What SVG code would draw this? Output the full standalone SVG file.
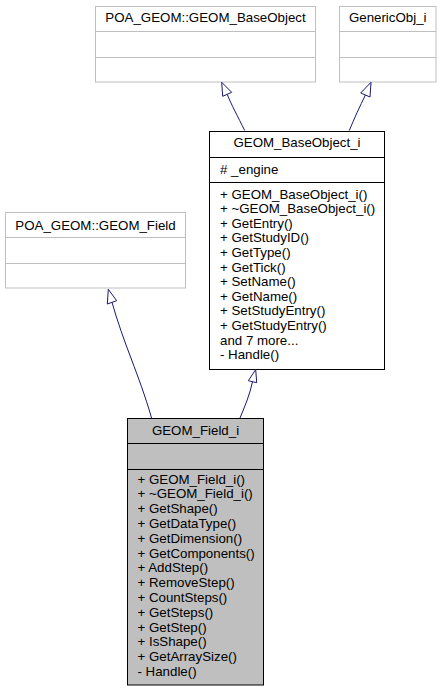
<svg xmlns="http://www.w3.org/2000/svg" width="441" height="691" viewBox="0 0 441 691">
<style>
text{font-family:"Liberation Sans",Arial,sans-serif;font-size:13.3px;fill:#000}
.t{text-anchor:middle}
.ext rect,.ext line{fill:#fff;stroke:#bfbfbf;stroke-width:1}
.cls rect{fill:#fff;stroke:#000;stroke-width:1}
.cls line{stroke:#000;stroke-width:1}
.cur rect{fill:#bfbfbf}
.e path{fill:none;stroke:#191970;stroke-width:1}
.e polygon{fill:#fff;stroke:#191970;stroke-width:1}
</style>
<rect width="441" height="691" fill="#fff"/>
<g id="poa_baseobject" class="ext">
<rect x="95.5" y="6.5" width="220" height="75.5"/>
<line x1="95.5" y1="31.5" x2="315.5" y2="31.5"/>
<line x1="95.5" y1="57.5" x2="315.5" y2="57.5"/>
<text class="t" x="205.5" y="22">POA_GEOM::GEOM_BaseObject</text>
</g>
<g id="genericobj" class="ext">
<rect x="339.5" y="6.5" width="96.5" height="75.5"/>
<line x1="339.5" y1="31.5" x2="436" y2="31.5"/>
<line x1="339.5" y1="57.5" x2="436" y2="57.5"/>
<text class="t" x="387.7" y="22">GenericObj_i</text>
</g>
<g id="baseobject_i" class="cls">
<rect x="209.5" y="131.5" width="175" height="238"/>
<line x1="209.5" y1="157.5" x2="384.5" y2="157.5"/>
<line x1="209.5" y1="182.5" x2="384.5" y2="182.5"/>
<text class="t" x="297" y="147">GEOM_BaseObject_i</text>
<text x="220" y="173.5"># _engine</text>
<text x="220" y="198.5">+ GEOM_BaseObject_i()</text>
<text x="220" y="213.1">+ ~GEOM_BaseObject_i()</text>
<text x="220" y="227.7">+ GetEntry()</text>
<text x="220" y="242.3">+ GetStudyID()</text>
<text x="220" y="256.9">+ GetType()</text>
<text x="220" y="271.5">+ GetTick()</text>
<text x="220" y="286.1">+ SetName()</text>
<text x="220" y="300.7">+ GetName()</text>
<text x="220" y="315.3">+ SetStudyEntry()</text>
<text x="220" y="329.9">+ GetStudyEntry()</text>
<text x="220" y="344.5">and 7 more...</text>
<text x="220" y="359.1">- Handle()</text>
</g>
<g id="poa_field" class="ext">
<rect x="5.5" y="212.5" width="180" height="75.5"/>
<line x1="5.5" y1="237.5" x2="185.5" y2="237.5"/>
<line x1="5.5" y1="263.5" x2="185.5" y2="263.5"/>
<text class="t" x="95.5" y="229.5">POA_GEOM::GEOM_Field</text>
</g>
<g id="field_i" class="cls cur">
<rect x="127.5" y="418.5" width="136" height="266.5"/>
<line x1="127.5" y1="443.5" x2="263.5" y2="443.5"/>
<line x1="127.5" y1="469.5" x2="263.5" y2="469.5"/>
<text class="t" x="195.5" y="435">GEOM_Field_i</text>
<text x="137.5" y="483.5">+ GEOM_Field_i()</text>
<text x="137.5" y="498.3">+ ~GEOM_Field_i()</text>
<text x="137.5" y="513.1">+ GetShape()</text>
<text x="137.5" y="527.9">+ GetDataType()</text>
<text x="137.5" y="542.7">+ GetDimension()</text>
<text x="137.5" y="557.5">+ GetComponents()</text>
<text x="137.5" y="572.3">+ AddStep()</text>
<text x="137.5" y="587.1">+ RemoveStep()</text>
<text x="137.5" y="601.9">+ CountSteps()</text>
<text x="137.5" y="616.7">+ GetSteps()</text>
<text x="137.5" y="631.5">+ GetStep()</text>
<text x="137.5" y="646.3">+ IsShape()</text>
<text x="137.5" y="661.1">+ GetArraySize()</text>
<text x="137.5" y="675.9">- Handle()</text>
</g>
<g id="edges" class="e">
<path d="M244.7,130.5 C238,117 231,104 227.2,94.3"/>
<polygon points="221.7,82.3 222.7,96.3 231.7,92.3"/>
<path d="M349.3,130.5 C354,119 360,106 365.4,95"/>
<polygon points="371,82.3 360.7,93 370,97"/>
<path d="M151.7,418.5 C145,395 138,377 131.7,360 C124,340 117,320 112,302.3"/>
<polygon points="108.3,289.3 107.3,304 116.7,300.7"/>
<path d="M240,418 C245,406 250,394 252.5,381.7"/>
<polygon points="255.7,369.5 248.3,380.7 256.7,382.7"/>
</g>
</svg>
